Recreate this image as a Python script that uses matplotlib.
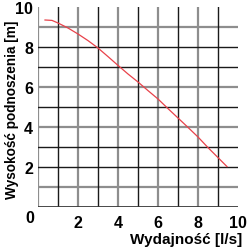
import matplotlib
matplotlib.use("Agg")
import matplotlib.pyplot as plt

# Data
flow = [0.35, 0.7, 1.0, 1.5, 2.0, 2.5, 3.0, 3.5, 4.0, 4.5, 5.0, 5.5, 6.0, 6.5, 7.0, 7.5, 8.0, 8.5, 9.0, 9.45]
head = [9.35, 9.33, 9.2, 8.95, 8.65, 8.32, 7.95, 7.52, 7.08, 6.65, 6.25, 5.82, 5.4, 4.92, 4.45, 3.98, 3.5, 2.97, 2.47, 2.02]
x_ticks = [2, 4, 6, 8, 10]
y_ticks = [2, 4, 6, 8, 10]
x_label = "Wydajność [l/s]"
y_label = "Wysokość podnoszenia [m]"

plt.rcParams['font.family'] = ['Liberation Sans', 'DejaVu Sans']
plt.rcParams['font.weight'] = 'bold'

W, H = 247, 251
fig = plt.figure(figsize=(W / 100, H / 100), dpi=100)
ax = fig.add_axes([38 / W, 1 - 208 / H, 200 / W, 200 / H])
ax.set_xlim(0, 10)
ax.set_ylim(0, 10)
for s in ax.spines.values():
    s.set_visible(False)

gray = dict(color='#8e8e8e', lw=1.6, zorder=1)
black = dict(color='#1a1a1a', lw=1.0, zorder=2)
# vertical grid lines
for v in range(0, 10):
    ax.axvline(v, **(gray if v % 2 == 0 else black))
# horizontal grid lines
gray_h = {1, 4, 6, 9}
for h in range(1, 10):
    ax.axhline(h, **(gray if h in gray_h else black))
ax.axhline(0, color='#3a3a3a', lw=1.3, zorder=2)

ax.plot(flow, head, color='#e8424a', lw=0.9, zorder=3)

fs = 11.5
ax.set_xticks(x_ticks)
ax.set_yticks(y_ticks)
ax.set_xticklabels([str(t) for t in x_ticks], fontsize=fs, fontweight='bold')
ax.set_yticklabels([str(t) for t in y_ticks], fontsize=fs, fontweight='bold')
ax.tick_params(axis='both', length=0)
ax.tick_params(axis='x', pad=6)
ax.tick_params(axis='y', pad=3.5)

fig.text(30 / W, 1 - 219 / H, '0', ha='center', va='center', fontsize=fs, fontweight='bold')
fig.text(12 / W, 1 - 110 / H, y_label, rotation=90, ha='center', va='center', fontsize=9.8, fontweight='bold')
fig.text(242 / W, 1 - 240 / H, x_label, ha='right', va='center', fontsize=11, fontweight='bold')

fig.savefig('out.png', dpi=100, facecolor='white')
